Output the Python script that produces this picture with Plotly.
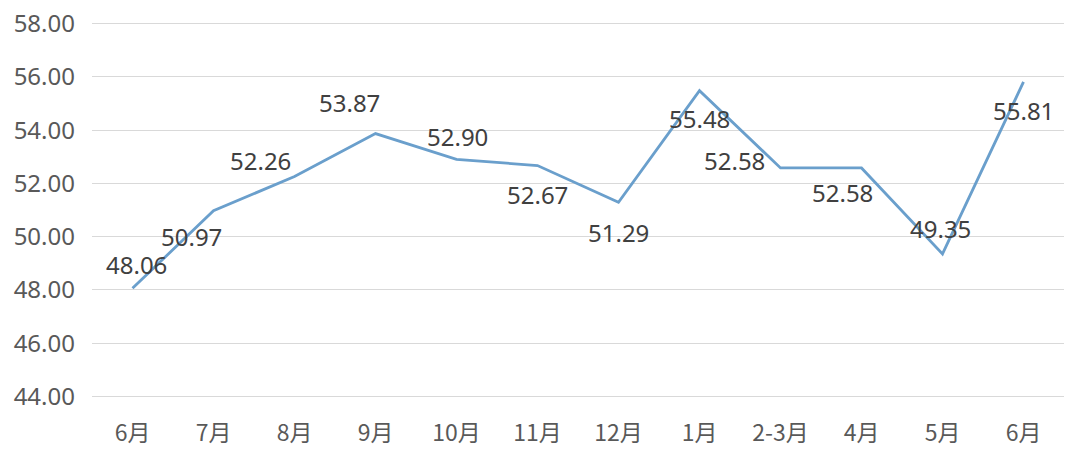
import plotly.graph_objects as go

months = ["6月", "7月", "8月", "9月", "10月", "11月", "12月", "1月", "2-3月", "4月", "5月", "6月"]
values = [48.06, 50.97, 52.26, 53.87, 52.90, 52.67, 51.29, 55.48, 52.58, 52.58, 49.35, 55.81]
y_ticks = [44, 46, 48, 50, 52, 54, 56, 58]

# label offsets in pixels (dx right, dy down) relative to each point
label_dx = [4, -22, -34, -26, 1, 0, 0, 0, -46, -19, -2, 0]
label_dy = [-24, 26, -16, -31, -23, 29, 30, 28, -7, 25, -25, 29]

xs = list(range(len(months)))

fig = go.Figure()
fig.add_trace(go.Scatter(
    x=xs, y=values, mode="lines",
    line=dict(color="#6a9fcc", width=2.8),
    hoverinfo="skip",
))

for x, v, dx, dy in zip(xs, values, label_dx, label_dy):
    fig.add_annotation(
        x=x, y=v, xref="x", yref="y", text=f"{v:.2f}",
        showarrow=False, xshift=dx, yshift=-dy,
        font=dict(family="Noto Sans, Noto Sans CJK SC", size=24, color="#404040"),
    )

fig.update_layout(
    width=1080, height=461,
    margin=dict(l=92, r=16, t=22, b=63),
    paper_bgcolor="white", plot_bgcolor="white",
    showlegend=False,
    font=dict(family="Noto Sans, Noto Sans CJK SC", size=23, color="#595959"),
)
fig.update_xaxes(
    range=[-0.5, len(months) - 0.5],
    tickmode="array", tickvals=xs, ticktext=months,
    showgrid=False, zeroline=False, showline=False, ticks="",
    automargin=False, ticklabelstandoff=19,
    tickfont=dict(family="Noto Sans CJK SC", size=23, color="#595959"),
)
fig.update_yaxes(
    range=[43.94, 58.06],
    tickmode="array", tickvals=y_ticks, ticktext=[f"{t:.2f}" for t in y_ticks],
    showgrid=True, gridcolor="#d9d9d9", gridwidth=1,
    zeroline=False, showline=False, ticks="",
    automargin=False, ticklabelstandoff=16,
    tickfont=dict(family="Noto Sans", size=24, color="#595959"),
)

fig.write_html(
    "out.html",
    config={"displayModeBar": False},
    post_script="document.body.style.margin='0';document.body.style.overflow='hidden';",
)
